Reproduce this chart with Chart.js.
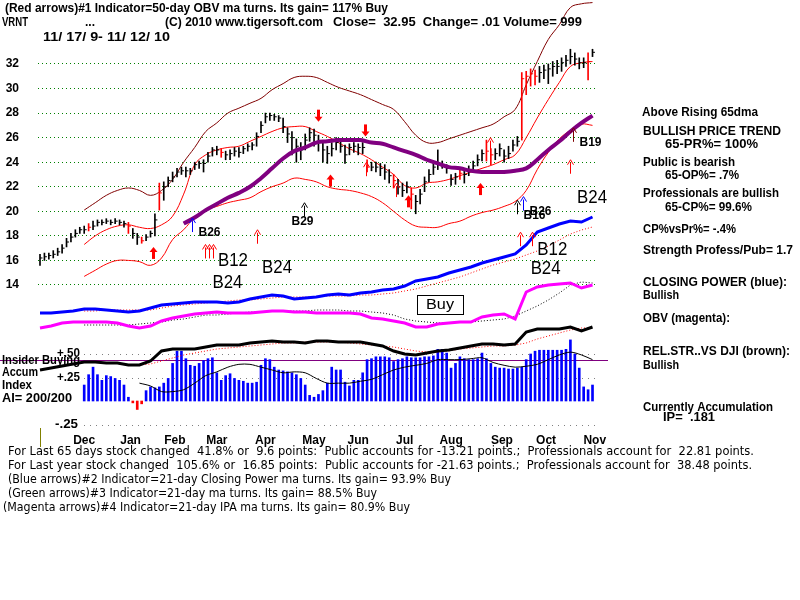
<!DOCTYPE html>
<html>
<head>
<meta charset="utf-8">
<title>VRNT</title>
<script src="https://cdn.jsdelivr.net/npm/chart.js@4.4.1/dist/chart.umd.min.js"></script>
<style>
  html, body { margin: 0; background: #fff; }
  canvas { display: block; }
</style>
</head>
<body>
<canvas id="chart" width="800" height="600"></canvas>
<script>
// ---- data: trading day index 0 = 11/17/09, 250 = 11/12/10 ----
const monthNames = ['Dec', 'Jan', 'Feb', 'Mar', 'Apr', 'May', 'Jun', 'Jul', 'Aug', 'Sep', 'Oct', 'Nov'];
const monthDays = [20, 41, 61, 80, 102, 124, 144, 165, 186, 209, 229, 251];
const priceTicks = [14, 16, 18, 20, 22, 24, 26, 28, 30, 32];

// price bars, one every 2 trading days
const barStep = 2;
const closes = [
  16.2,16.3,16.4,16.5,16.7,17.0,17.5,17.9,18.2,18.5,
  18.5,18.7,18.8,19.1,19.1,19.2,19.1,19.2,19.1,19.0,
  18.8,18.2,17.9,17.6,17.9,18.2,19.3,21.5,22.0,22.5,
  22.8,23.2,23.3,23.3,23.3,23.8,23.9,23.9,24.5,25.0,
  25.0,24.8,24.6,24.7,24.9,24.8,25.1,25.3,25.4,26.1,
  27.0,27.7,27.8,27.7,27.6,26.9,26.3,26.0,25.3,25.0,
  25.8,26.4,26.2,25.6,25.0,24.7,25.1,25.6,25.3,24.6,
  25.2,25.3,25.2,25.2,23.6,23.6,23.6,23.5,23.2,22.9,
  22.5,22.0,21.7,22.0,21.4,20.8,21.4,22.4,23.0,23.6,
  23.8,23.8,23.5,22.6,22.8,23.1,23.0,23.3,23.7,24.2,
  24.7,24.9,24.6,24.7,25.1,24.5,24.7,25.4,25.7,30.8,
  31.0,31.2,31.0,31.3,31.5,31.6,31.8,31.8,32.1,32.3,
  32.6,32.4,32.1,32.1,32.2,32.95
];
const lows = [
  15.6,16.0,16.1,16.2,16.4,16.6,17.1,17.5,17.9,18.2,
  18.2,18.4,18.5,18.8,18.9,19.0,18.9,19.0,18.9,18.7,
  18.2,17.8,17.3,17.4,17.6,17.9,18.0,20.1,20.9,22.0,
  22.4,22.8,23.0,22.8,23.0,23.4,23.5,23.2,24.0,24.5,
  24.6,24.4,24.2,24.2,24.5,24.4,24.7,24.9,25.0,25.3,
  26.4,27.2,27.4,27.4,27.3,26.4,25.6,24.6,24.0,24.2,
  25.0,25.7,25.3,24.9,24.0,23.9,24.5,25.0,24.8,23.9,
  24.6,24.8,24.6,24.7,23.2,23.3,23.2,22.9,22.6,22.3,
  21.9,21.4,21.2,21.5,20.2,19.8,20.6,21.6,22.4,23.0,
  23.4,23.5,23.1,22.1,22.2,22.6,22.3,22.9,23.2,23.7,
  24.1,24.1,23.8,24.2,24.5,24.0,24.3,24.9,25.3,25.8,
  29.5,30.2,30.3,30.5,30.8,30.4,31.0,31.2,31.4,31.8,
  32.0,31.9,31.6,31.7,30.7,32.6
];
const highs = [
  16.5,16.6,16.6,16.8,17.0,17.3,17.8,18.2,18.5,18.7,
  18.8,19.0,19.2,19.3,19.3,19.4,19.3,19.4,19.3,19.2,
  19.1,18.6,18.2,17.9,18.1,18.4,19.8,22.3,22.4,22.8,
  23.2,23.5,23.6,23.6,23.5,24.0,24.1,24.2,24.8,25.2,
  25.3,25.1,24.9,25.0,25.2,25.2,25.3,25.5,25.6,26.4,
  27.3,28.0,28.0,27.9,27.8,27.6,26.8,26.5,25.9,25.6,
  26.3,26.8,26.7,26.2,25.6,25.3,25.6,26.0,25.8,25.4,
  25.5,25.6,25.5,25.6,24.2,24.0,24.0,23.9,23.8,23.4,
  23.0,22.6,22.3,22.4,21.9,21.3,21.8,22.8,23.4,24.0,
  25.0,24.1,23.8,23.0,23.1,23.4,23.5,23.7,24.1,24.6,
  25.0,25.8,25.1,25.1,25.5,25.0,25.3,25.8,26.1,31.3,
  31.4,31.6,31.5,31.8,31.9,32.0,32.2,32.3,32.5,32.7,
  33.2,32.9,32.5,32.5,32.9,33.2
];
const redBars = [11, 20, 23, 27, 41, 74, 80, 84, 95, 101, 102, 109, 110, 111, 112, 124];

// accumulation index, one every 2 trading days
const accumIndex = [
  null,null,null,null,null,null,null,null,null,null,
  .17,.28,.36,.28,.22,.27,.26,.24,.22,.17,
  .04,-.02,-.09,-.03,.11,.15,.14,.15,.19,.24,
  .40,.53,.53,.45,.38,.37,.40,.43,.45,.46,
  .30,.22,.27,.29,.24,.22,.21,.19,.19,.20,
  .38,.45,.44,.36,.33,.32,.31,.30,.28,.24,
  .17,.06,.04,.07,.11,.19,.36,.33,.33,.20,
  .16,.22,.22,.30,.44,.45,.47,.47,.47,.46,
  .42,.44,.45,.47,.46,.46,.46,.47,.47,.48,
  .55,.55,.51,.35,.40,.47,.45,.44,.44,.45,
  .51,.45,.40,.36,.35,.35,.34,.34,.35,.36,
  .44,.50,.53,.54,.54,.54,.54,.54,.54,.55,
  .65,.50,.35,.15,.12,.17
];
const aiTicks = [0.5, 0.25, -0.25];
const aiTickLabels = ['+.50', '+.25', '-.25'];
const insiderLevel = 0.44;

// smooth lines, one value every 5 trading days
const lineStep = 5;
const outerBand = [null,null,null,null,
  20.1,20.7,21.3,21.7,21.9,21.7,21.3,21.7,22.6,24.0,25.2,26.5,27.2,28.0,28.4,28.8,29.2,29.9,30.4,30.9,
  31.0,30.9,30.5,30.1,29.8,29.5,29.1,28.7,28.3,27.3,26.2,25.6,25.6,25.9,26.2,26.5,26.8,27.1,27.7,28.3,
  30.3,32.2,34.0,35.2,36.6,36.9,37.0];
const upperBand = [null,null,null,null,
  17.3,18.0,18.5,18.8,18.9,18.7,18.6,18.9,19.6,21.4,23.8,24.6,25.0,25.2,25.3,25.7,26.1,26.5,26.8,26.9,
  26.9,26.5,26.1,25.6,25.1,24.7,24.2,23.6,23.0,22.1,21.9,22.3,22.4,22.6,22.9,23.2,23.5,23.8,24.2,24.6,
  26.0,27.6,29.1,30.5,31.8,32.1,32.2];
const lowerBand = [null,null,null,null,
  14.7,15.2,15.7,16.0,16.0,15.9,15.6,16.2,17.7,18.5,19.5,20.1,20.4,20.7,20.9,21.1,21.6,22.0,22.3,22.7,
  22.6,22.4,22.0,21.8,21.7,21.5,21.2,20.7,20.0,19.3,18.8,18.7,18.7,19.0,19.2,19.6,19.9,20.1,20.4,20.8,
  21.7,23.4,24.8,25.9,26.6,27.1,27.0];
const ma65 = [null,null,null,null,null,null,null,null,null,null,null,null,null,
  19.0,19.5,20.1,20.6,21.1,21.5,22.0,22.7,23.5,24.3,24.9,25.2,25.6,25.7,25.8,25.8,25.8,25.6,25.5,25.2,
  24.9,24.6,24.2,23.9,23.6,23.5,23.3,23.2,23.2,23.2,23.3,23.5,24.2,25.0,25.7,26.5,27.2,27.8];

// indicator lines (relative units)
const closingPower = [87,87,88,89,91,91,90,89,88,89,92,95,96,97,98,98,98,97,98,101,103,105,104,101,102,
  103,105,106,105,107,108,110,111,114,119,121,123,127,130,133,137,140,143,146,155,168,172,176,179,178,183];
const closingPowerMa = [null,null,null,null,
  89,89,90,90,90,90,90,92,94,95,96,97,98,99,100,100,101,102,103,103,103,103,104,104,104,105,105,106,
  107,109,111,114,117,120,123,127,131,135,138,141,145,149,154,160,166,170,173];
const obv = [72,74,77,78,78,78,78,77,74,72,74,79,82,84,86,87,88,87,87,87,88,89,89,88,88,87,87,87,87,
  86,82,81,79,77,73,73,76,77,78,78,83,85,86,81,108,113,115,116,117,112,115];
const obvMa = [null,null,null,null,
  75,75,75,75,75,76,77,78,80,81,83,85,85,86,87,88,88,89,89,89,89,90,90,90,89,89,88,87,85,81,79,78,
  77,77,78,78,79,80,81,84,89,94,100,107,115,118,117];
const relStrength = [30,32,34,36,38,38,37,37,35,35,39,49,51,51,51,53,55,55,55,57,58,59,58,58,57,59,59,
  58,58,58,56,54,49,46,45,47,49,50,52,54,56,56,55,56,68,71,71,71,73,69,73];
const relStrengthMa = [null,null,null,null,null,null,null,null,null,
  35,36,39,42,45,47,49,51,52,53,54,55,56,57,57,58,58,58,58,57,56,55,54,53,51,49,48,48,49,51,52,53,
  54,54,55,57,61,64,67,70,72,72];
const accumMa = [null,null,null,null,null,null,null,null,null,
  .19,.16,.10,.10,.12,.19,.27,.31,.36,.39,.39,.36,.33,.30,.31,.30,.24,.19,.19,.19,.21,.23,.28,.33,
  .36,.38,.40,.44,.44,.44,.45,.46,.41,.38,.36,.37,.39,.44,.49,.52,.49,.44];

// signals: [day, price at arrow tip, kind, label]
const signals = [
  [51, 17.1, 'RR'], [69, 19.45, 'B', 'B26'], [74.7, 17.3, 'R'], [76.5, 17.3, 'R'], [78.3, 17.3, 'R'],
  [98, 18.5, 'R'], [119.5, 20.7, 'K', 'B29'], [126, 27.3, 'RD'], [131, 23.0, 'RR'], [147, 26.1, 'RD'],
  [147.5, 24.0, 'R'], [161, 22.3, 'R'], [166.5, 21.3, 'RR'], [199, 22.3, 'RR'], [203.5, 26.0, 'R'],
  [216, 20.9, 'K', 'B16'], [217, 18.3, 'R'], [218.5, 21.2, 'B', 'B26'], [222.5, 18.3, 'R'],
  [240, 24.2, 'R'], [241, 26.8, 'M', 'B19']
];
const bigLabels = [[80.5, 16.0, 'B12'], [78, 14.2, 'B24'], [100.5, 15.4, 'B24'],
  [243, 21.1, 'B24'], [225, 16.9, 'B12'], [222, 15.3, 'B24']];

// ---- helpers ----
const boldFont = 'bold 12px "Liberation Sans", Arial, sans-serif';
const narrowFont = '13px "Liberation Sans Narrow", "DejaVu Sans Condensed", sans-serif';
const bigFont = '19px "Liberation Sans", Arial, sans-serif';

function linePts(arr) {
  return arr.map((v, j) => v === null ? null : { x: j * lineStep, y: v }).filter(Boolean);
}

// draws text squeezed/stretched to the width it has in the original
function drawText(ctx, str, x, y, font, width, align) {
  ctx.save();
  ctx.font = font;
  ctx.fillStyle = '#000';
  ctx.textBaseline = 'middle';
  ctx.textAlign = 'left';
  const w = ctx.measureText(str).width;
  const sx = width ? width / w : 1;
  const left = align === 'center' ? x - (width || w) / 2 : x;
  ctx.translate(left, y);
  ctx.scale(sx, 1);
  ctx.fillText(str, 0, 0);
  ctx.restore();
}

function drawArrow(ctx, x, tip, kind) {
  const colors = { R: '#ff0000', RR: '#ff0000', RD: '#ff0000', B: '#0000ff', K: '#000000', M: '#800000' };
  const d = kind === 'RD' ? -1 : 1;
  const thick = kind === 'RR' || kind === 'RD';
  const len = thick ? 12 : 14;
  ctx.save();
  ctx.strokeStyle = colors[kind];
  ctx.fillStyle = colors[kind];
  ctx.lineWidth = thick ? 3 : 1;
  ctx.beginPath();
  ctx.moveTo(x, tip + d * 3);
  ctx.lineTo(x, tip + d * len);
  ctx.stroke();
  if (thick) {
    ctx.beginPath();
    ctx.moveTo(x, tip);
    ctx.lineTo(x - 4, tip + d * 5);
    ctx.lineTo(x + 4, tip + d * 5);
    ctx.closePath();
    ctx.fill();
  } else {
    ctx.lineWidth = 1;
    ctx.beginPath();
    ctx.moveTo(x - 3, tip + d * 5);
    ctx.lineTo(x, tip);
    ctx.lineTo(x + 3, tip + d * 5);
    ctx.stroke();
  }
  ctx.restore();
}

// ---- build datasets ----
const barPts = closes.map((c, k) => ({ x: k * barStep, y: [lows[k], highs[k]] }));
const closePts = closes.map((c, k) => ({ x: k * barStep, y: c }));
const barColors = closes.map((c, k) => redBars.includes(k) ? '#ff0000' : '#000000');
const aiPts = accumIndex.map((v, k) => v === null ? null : { x: k * barStep, y: v }).filter(Boolean);
const aiColors = aiPts.map(p => p.y < 0 ? '#ff0000' : '#0000ff');

const decorPlugin = {
  id: 'decor',
  beforeDatasetsDraw(chart) {
    const ctx = chart.ctx;
    const ai = chart.scales.ai;
    ctx.save();
    ctx.lineWidth = 1;
    ctx.strokeStyle = '#808080';
    ctx.setLineDash([1, 5]);
    aiTicks.forEach(v => {
      const py = Math.round(ai.getPixelForValue(v)) + 0.5;
      ctx.beginPath();
      ctx.moveTo(84, py);
      ctx.lineTo(596, py);
      ctx.stroke();
    });
    ctx.setLineDash([]);
    ctx.strokeStyle = '#800080';
    const py = Math.round(ai.getPixelForValue(insiderLevel)) + 0.5;
    ctx.beginPath();
    ctx.moveTo(0, py);
    ctx.lineTo(608, py);
    ctx.stroke();
    ctx.restore();
  },
  afterDatasetsDraw(chart) {
    const ctx = chart.ctx;
    const xs = chart.scales.x, ys = chart.scales.y;
    signals.forEach(s => {
      const px = Math.round(xs.getPixelForValue(s[0])) + 0.5;
      const tip = ys.getPixelForValue(s[1]);
      drawArrow(ctx, px, tip, s[2]);
      if (s[3]) {
        if (s[3] === 'B29') drawText(ctx, s[3], px - 2, tip + 19, boldFont, 22, 'center');
        else drawText(ctx, s[3], px + 6, tip + 15, boldFont, 22);
      }
    });
    bigLabels.forEach(b => {
      drawText(ctx, b[2], xs.getPixelForValue(b[0]), ys.getPixelForValue(b[1]), bigFont, 30);
    });
    // Buy box
    ctx.save();
    ctx.strokeStyle = '#000';
    ctx.lineWidth = 1;
    ctx.strokeRect(417.5, 295.5, 46, 19);
    ctx.restore();
    drawText(ctx, 'Buy', 440, 305, '15px "Liberation Sans", Arial, sans-serif', 28, 'center');
  },
  afterDraw(chart) {
    const ctx = chart.ctx;
    const ai = chart.scales.ai;
    // header
    drawText(ctx, '(Red arrows)#1 Indicator=50-day OBV ma turns. Its gain= 117% Buy', 5, 9, boldFont, 383);
    drawText(ctx, 'VRNT', 2, 23, boldFont, 26);
    drawText(ctx, '...', 85, 23, boldFont, 10);
    drawText(ctx, '(C) 2010 www.tigersoft.com', 165, 23, boldFont, 158);
    drawText(ctx, 'Close=  32.95  Change= .01 Volume= 999', 333, 23, boldFont, 249);
    drawText(ctx, '11/ 17/ 9- 11/ 12/ 10', 43, 38, boldFont, 127);
    // right side notes
    const notes = [
      ['Above Rising 65dma', 642, 113, 116], ['BULLISH PRICE TREND', 643, 132, 138],
      ['65-PR%= 100%', 665, 145, 93], ['Public is bearish', 643, 163, 92],
      ['65-OP%= .7%', 665, 176, 74], ['Professionals are bullish', 643, 194, 136],
      ['65-CP%= 99.6%', 665, 208, 87], ['CP%vsPr%= -.4%', 643, 230, 93],
      ['Strength Profess/Pub= 1.7', 643, 251, 150], ['CLOSING POWER (blue):', 643, 283, 144],
      ['Bullish', 643, 296, 36], ['OBV (magenta):', 643, 319, 87],
      ['REL.STR..VS DJI (brown):', 643, 352, 147], ['Bullish', 643, 366, 36],
      ['Currently Accumulation', 643, 408, 130], ['IP=  .181', 663, 418, 52]
    ];
    notes.forEach(n => drawText(ctx, n[0], n[1], n[2], boldFont, n[3]));
    // lower panel labels
    drawText(ctx, 'Insider Buying', 2, 361, boldFont, 78);
    drawText(ctx, 'Accum', 2, 373, boldFont, 36);
    drawText(ctx, 'Index', 2, 386, boldFont, 30);
    drawText(ctx, 'AI= 200/200', 2, 399, boldFont, 70);
    aiTicks.forEach((v, i) => {
      drawText(ctx, aiTickLabels[i], i === 2 ? 55 : 57, ai.getPixelForValue(v), boldFont, 23);
    });
    // start marker
    ctx.save();
    ctx.strokeStyle = '#808000';
    ctx.beginPath();
    ctx.moveTo(40.5, 428);
    ctx.lineTo(40.5, 447);
    ctx.stroke();
    ctx.restore();
    // footer
    drawText(ctx, 'For Last 65 days stock changed  41.8% or  9.6 points:  Public accounts for -13.21 points.;  Professionals account for  22.81 points.', 8, 452, narrowFont, 746);
    drawText(ctx, 'For Last year stock changed  105.6% or  16.85 points:  Public accounts for -21.63 points.;  Professionals account for  38.48 points.', 8, 466, narrowFont, 744);
    drawText(ctx, '(Blue arrows)#2 Indicator=21-day Closing Power ma turns. Its gain= 93.9% Buy', 8, 480, narrowFont, 443);
    drawText(ctx, '(Green arrows)#3 Indicator=21-day ma turns. Its gain= 88.5% Buy', 8, 494, narrowFont, 369);
    drawText(ctx, '(Magenta arrows)#4 Indicator=21-day IPA ma turns. Its gain= 80.9% Buy', 3, 508, narrowFont, 407);
  }
};

const lineBase = { type: 'line', pointRadius: 0, fill: false, borderWidth: 1 };

// keep axis label padding from pushing the plot area around
function noEdgePadding(s) {
  s.paddingTop = 0;
  s.paddingBottom = 0;
  s.paddingLeft = 0;
  s.paddingRight = 0;
}

new Chart(document.getElementById('chart').getContext('2d'), {
  type: 'bar',
  data: {
    datasets: [
      { ...lineBase, data: linePts(outerBand), borderColor: '#800000', tension: 0.4, yAxisID: 'y', order: 10 },
      { ...lineBase, data: linePts(upperBand), borderColor: '#ff0000', tension: 0.4, yAxisID: 'y', order: 10 },
      { ...lineBase, data: linePts(lowerBand), borderColor: '#ff0000', tension: 0.4, yAxisID: 'y', order: 10 },
      {
        type: 'bar', data: barPts, backgroundColor: barColors, barThickness: 1, grouped: false,
        borderWidth: 0, yAxisID: 'y', order: 5
      },
      {
        ...lineBase, data: closePts, showLine: false, pointStyle: 'dash', pointRadius: 2.5,
        pointBorderWidth: 1, pointBorderColor: barColors, pointBackgroundColor: barColors, yAxisID: 'y', order: 4
      },
      { ...lineBase, data: linePts(ma65), borderColor: '#800080', borderWidth: 4, tension: 0.4, yAxisID: 'y', order: 3 },
      { ...lineBase, data: linePts(closingPowerMa), borderColor: '#ff0000', borderDash: [1, 2], yAxisID: 'ind', order: 9 },
      { ...lineBase, data: linePts(closingPower), borderColor: '#0000ff', borderWidth: 3, yAxisID: 'ind', order: 8 },
      { ...lineBase, data: linePts(obvMa), borderColor: '#000000', borderDash: [1, 2], yAxisID: 'ind', order: 9 },
      { ...lineBase, data: linePts(obv), borderColor: '#ff00ff', borderWidth: 3, yAxisID: 'ind', order: 8 },
      {
        type: 'bar', data: aiPts, backgroundColor: aiColors, barThickness: 2, grouped: false,
        borderWidth: 0, base: 0, yAxisID: 'ai', order: 9
      },
      { ...lineBase, data: linePts(accumMa), borderColor: '#000000', tension: 0.3, yAxisID: 'ai', order: 7 },
      { ...lineBase, data: linePts(relStrengthMa), borderColor: '#ff0000', borderDash: [1, 2], yAxisID: 'ind', order: 7 },
      { ...lineBase, data: linePts(relStrength), borderColor: '#000000', borderWidth: 3, yAxisID: 'ind', order: 6 }
    ]
  },
  options: {
    responsive: false,
    animation: false,
    devicePixelRatio: 1,
    events: [],
    layout: { autoPadding: false, padding: { left: 4, right: 204, top: 0, bottom: 150 } },
    plugins: { legend: { display: false }, tooltip: { enabled: false } },
    scales: {
      x: {
        type: 'linear', min: -0.905, max: 251.58, offset: false,
        grid: { display: false }, border: { display: false },
        afterBuildTicks: s => { s.ticks = monthDays.map(v => ({ value: v })); },
        afterFit: s => { s.height = 20; noEdgePadding(s); },
        ticks: {
          autoSkip: false, maxRotation: 0, padding: -5, color: '#000',
          font: { family: '"Liberation Sans", Arial, sans-serif', size: 12, weight: 'bold' },
          callback: (v, i) => monthNames[i]
        }
      },
      y: {
        position: 'left', min: 2.19, max: 37.21,
        afterBuildTicks: s => { s.ticks = priceTicks.map(v => ({ value: v })); },
        afterFit: s => { s.width = 34; noEdgePadding(s); },
        grid: { color: '#008000', drawTicks: false, lineWidth: 1 },
        border: { display: false, dash: [1, 3] },
        ticks: {
          padding: 19, color: '#000',
          font: { family: '"Liberation Sans", Arial, sans-serif', size: 12, weight: 'bold' },
          callback: v => String(v)
        }
      },
      ind: { display: false, position: 'right', min: -30, max: 400, afterFit: noEdgePadding },
      ai: { display: false, position: 'right', min: -0.3085, max: 4.266, afterFit: noEdgePadding }
    }
  },
  plugins: [decorPlugin]
});
</script>
</body>
</html>
